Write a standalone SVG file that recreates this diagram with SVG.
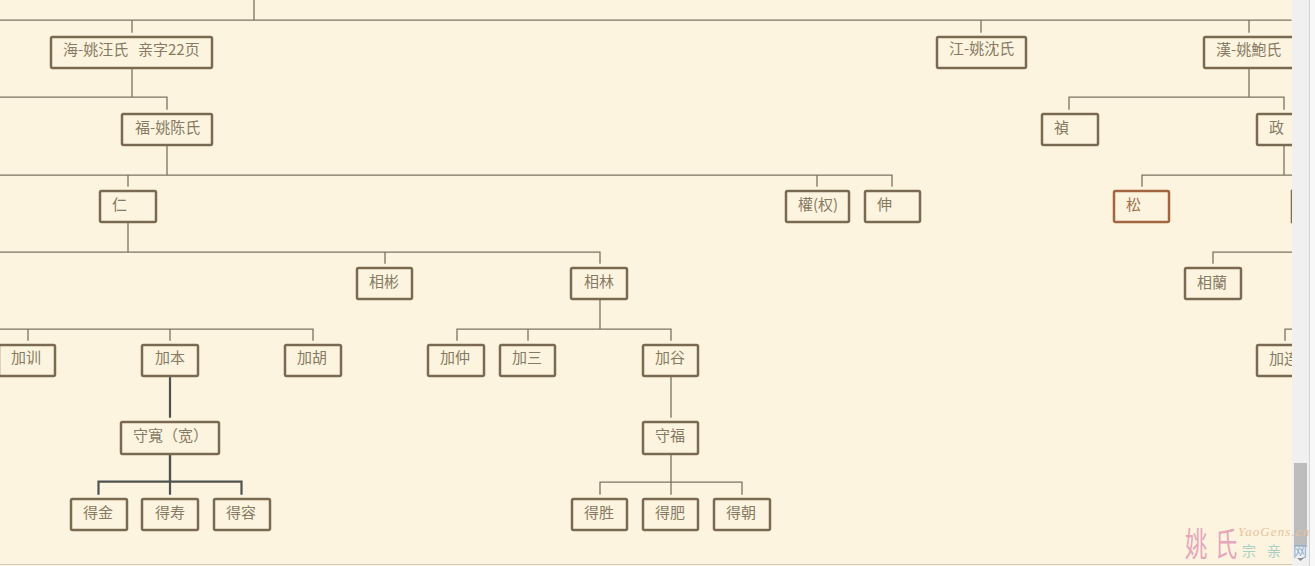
<svg xmlns="http://www.w3.org/2000/svg" width="1315" height="566" viewBox="0 0 1315 566">
<style>
.n{fill:#fcf4df;stroke:#7b6a52;stroke-width:2.500}
.r{stroke:#a2653f}
text{font-family:"Noto Sans CJK SC","Noto Sans",sans-serif}
.t{font-size:15px;fill:#877a64}
.c{fill:none;stroke:#7a7361;stroke-width:1.300}
.d{fill:none;stroke:#4f5350;stroke-width:2.200}
.wp{font-size:33px;fill:#e7a6bd}
.wy{font-family:"Liberation Serif",serif;font-style:italic;font-size:13px;fill:#e9c29d;letter-spacing:1.100px}
.wz{font-size:14px;fill:#a9cfc3}
</style>
<rect width="1315" height="566" fill="#fcf4df"/>
<g id="connectors" transform="translate(-0.5 -0.3)">
<path class="c" d="M254.500 0V20.500M0 20.500H1292M132.500 20.500V33M981.500 20.500V33M1249.500 20.500V33"/>
<path class="c" d="M132.500 68V97.500M0 97.500H167.500V110M167.500 145V175.500M0 175.500H892.500V187M128.500 175.500V187M817.500 175.500V187"/>
<path class="c" d="M1249.500 68V97.500M1069.500 110V97.500H1284.500V110M1284.500 145V175.500M1142.500 187V175.500H1292.500"/>
<path class="c" d="M128.500 222V252.500M0 252.500H600.500V264M385.500 252.500V264M600.500 299V329.500M457.500 341V329.500H671.500V341M528.500 329.500V341"/>
<path class="c" d="M0 329.500H313.500V341M28.500 329.500V341M170.500 329.500V341M1213.500 264V252.500H1292.500M1285.500 341V329.500H1292.500"/>
<path class="d" d="M170.500 376V418M170.500 454V495M99 495V482H242V495"/>
<path class="d" d="M170.500 454V482"/>
<path class="c" d="M671.500 376V418M671.500 454V482.500M600.500 495V482.500H742.500V495M671.500 482.500V495"/>
</g>
<g id="n1"><rect class="n" x="51" y="37" width="161" height="31" rx="1.500"/><text class="t" x="63" y="55">海-姚汪氏<tspan x="138">亲字22页</tspan></text></g>
<g id="n2"><rect class="n" x="937" y="37" width="89" height="31" rx="1.500"/><text class="t" x="949" y="54">江-姚沈氏</text></g>
<g id="n3"><rect class="n" x="1204" y="37" width="110" height="31" rx="1.500"/><text class="t" x="1216" y="55">漢-姚鮑氏</text></g>
<g id="n4"><rect class="n" x="122" y="114" width="90" height="31" rx="1.500"/><text class="t" x="135" y="133">福-姚陈氏</text></g>
<g id="n5"><rect class="n" x="1042" y="114" width="56" height="31" rx="1.500"/><text class="t" x="1054" y="133">禎</text></g>
<g id="n6"><rect class="n" x="1257" y="114" width="56" height="31" rx="1.500"/><text class="t" x="1269" y="133">政</text></g>
<g id="n7"><rect class="n" x="100" y="191" width="56" height="31" rx="1.500"/><text class="t" x="112" y="210">仁</text></g>
<g id="n8"><rect class="n" x="786" y="191" width="63" height="31" rx="1.500"/><text class="t" x="798" y="210">權(权)</text></g>
<g id="n9"><rect class="n" x="865" y="191" width="55" height="31" rx="1.500"/><text class="t" x="877" y="210">伸</text></g>
<g id="n10"><rect class="n r" x="1114" y="191" width="55" height="31" rx="1.500"/><text class="t" x="1126" y="210" style="fill:#a0704e">松</text></g>
<g id="n11"><rect class="n" x="1292" y="191" width="30" height="31"/></g>
<g id="n12"><rect class="n" x="357" y="268" width="55" height="31" rx="1.500"/><text class="t" x="369" y="287">相彬</text></g>
<g id="n13"><rect class="n" x="571" y="268" width="56" height="31" rx="1.500"/><text class="t" x="584" y="287">相林</text></g>
<g id="n14"><rect class="n" x="1185" y="268" width="56" height="31" rx="1.500"/><text class="t" x="1197" y="288">相蘭</text></g>
<g id="n15"><rect class="n" x="-1" y="345" width="56" height="31" rx="1.500"/><text class="t" x="11" y="363">加训</text></g>
<g id="n16"><rect class="n" x="142" y="345" width="56" height="31" rx="1.500"/><text class="t" x="155" y="363">加本</text></g>
<g id="n17"><rect class="n" x="285" y="345" width="56" height="31" rx="1.500"/><text class="t" x="297" y="363">加胡</text></g>
<g id="n18"><rect class="n" x="428" y="345" width="56" height="31" rx="1.500"/><text class="t" x="440" y="363">加仲</text></g>
<g id="n19"><rect class="n" x="500" y="345" width="55" height="31" rx="1.500"/><text class="t" x="512" y="363">加三</text></g>
<g id="n20"><rect class="n" x="643" y="345" width="55" height="31" rx="1.500"/><text class="t" x="655" y="363">加谷</text></g>
<g id="n21"><rect class="n" x="1257" y="345" width="56" height="31" rx="1.500"/><text class="t" x="1269" y="364">加连</text></g>
<g id="n22"><rect class="n" x="121" y="422" width="98" height="32" rx="1.500"/><text class="t" x="133" y="441">守寬（宽）</text></g>
<g id="n23"><rect class="n" x="643" y="422" width="55" height="32" rx="1.500"/><text class="t" x="655" y="441">守福</text></g>
<g id="n24"><rect class="n" x="71" y="499" width="56" height="31" rx="1.500"/><text class="t" x="83" y="518">得金</text></g>
<g id="n25"><rect class="n" x="142" y="499" width="56" height="31" rx="1.500"/><text class="t" x="155" y="518">得寿</text></g>
<g id="n26"><rect class="n" x="214" y="499" width="56" height="31" rx="1.500"/><text class="t" x="226" y="518">得容</text></g>
<g id="n27"><rect class="n" x="572" y="499" width="55" height="31" rx="1.500"/><text class="t" x="584" y="518">得胜</text></g>
<g id="n28"><rect class="n" x="643" y="499" width="55" height="31" rx="1.500"/><text class="t" x="655" y="518">得肥</text></g>
<g id="n29"><rect class="n" x="714" y="499" width="56" height="31" rx="1.500"/><text class="t" x="726" y="518">得朝</text></g>
<rect x="1292" y="0" width="17" height="566" fill="#f0f0f0"/>
<rect x="1309" y="0" width="1" height="566" fill="#d4d4d4"/>
<rect x="1310" y="0" width="5" height="566" fill="#f8f8f8"/>
<rect x="1294" y="463" width="13" height="84" fill="#bdbdbd"/>
<rect x="0" y="564" width="1292" height="1" fill="#cfcabb"/>
<path d="M1297 558H1304L1300.500 561Z" fill="#8e8e8e"/>
<g id="watermark">
<text class="wp" transform="translate(1185 556) scale(.68 1)">姚</text>
<text class="wp" transform="translate(1215 556) scale(.68 1)">氏</text>
<text class="wy" x="1238" y="536">YaoGens.cn</text>
<text class="wz" x="1242" y="556">宗</text>
<text class="wz" x="1267" y="556">亲</text>
<text class="wz" x="1293" y="556" style="fill:#8fb0d2">网</text>
</g>
</svg>
